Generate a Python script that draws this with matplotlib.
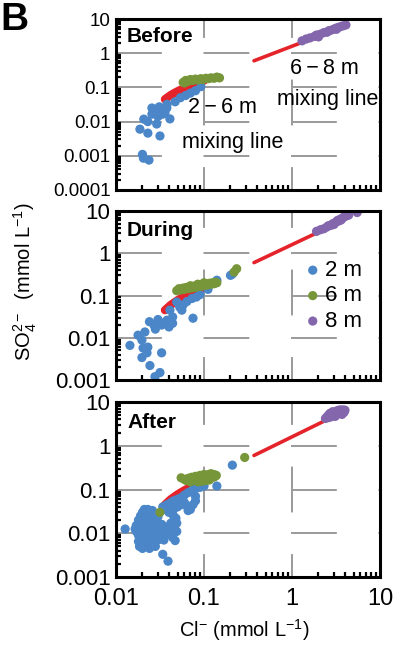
import numpy as np
import matplotlib
matplotlib.use("Agg")
import matplotlib.pyplot as plt
from matplotlib.ticker import FixedLocator, FixedFormatter, LogLocator, NullFormatter

plt.rcParams['font.family'] = ['Liberation Sans', 'DejaVu Sans']
plt.rcParams['mathtext.fontset'] = 'custom'
plt.rcParams['mathtext.rm'] = 'Liberation Sans'
plt.rcParams['mathtext.it'] = 'Liberation Sans:italic'
plt.rcParams['mathtext.bf'] = 'Liberation Sans:bold'
plt.rcParams['lines.scale_dashes'] = False

# ---- data (Cl-, SO4 2-), mmol/L ----
before_2m = [(0.0187, 0.006), (0.0207, 0.0118), (0.023, 0.0046), (0.020, 0.0011),
             (0.0205, 0.00085), (0.0237, 0.00075), (0.0256, 0.025), (0.0256, 0.0165),
             (0.023, 0.010), (0.0285, 0.02), (0.030, 0.014), (0.029, 0.0085),
             (0.0316, 0.0038), (0.034, 0.0165), (0.0378, 0.025), (0.041, 0.012),
             (0.038, 0.032), (0.033, 0.022), (0.036, 0.018), (0.031, 0.027),
             (0.047, 0.038), (0.054, 0.05), (0.062, 0.058), (0.07, 0.068),
             (0.08, 0.08), (0.092, 0.105)]
before_6m = [(0.058, 0.14), (0.062, 0.16), (0.066, 0.15), (0.07, 0.17), (0.075, 0.16),
             (0.08, 0.175), (0.086, 0.165), (0.092, 0.18), (0.098, 0.17), (0.105, 0.185),
             (0.112, 0.18), (0.12, 0.19), (0.13, 0.185), (0.14, 0.2), (0.15, 0.19),
             (0.06, 0.135)]
before_8m = [(1.3, 2.3), (1.45, 2.6), (1.6, 2.8), (1.8, 3.1), (1.9, 3.4), (2.1, 3.6),
             (2.3, 4.0), (2.5, 4.1), (2.7, 4.6), (2.9, 4.9), (3.1, 5.3), (3.3, 5.6),
             (3.5, 5.9), (3.8, 6.3), (4.1, 6.7), (2.0, 3.0), (2.6, 4.5), (3.2, 5.0)]

during_2m = [(0.0144, 0.0066), (0.0178, 0.0115), (0.0197, 0.0088), (0.0213, 0.0137),
             (0.0203, 0.0057), (0.0225, 0.0044), (0.0197, 0.0034), (0.0243, 0.0022),
             (0.0277, 0.0012), (0.0316, 0.0015), (0.033, 0.0044), (0.023, 0.006),
             (0.024, 0.024), (0.027, 0.02), (0.03, 0.027), (0.033, 0.02), (0.036, 0.023),
             (0.04, 0.018), (0.044, 0.022), (0.028, 0.016), (0.038, 0.026), (0.044, 0.031),
             (0.041, 0.045), (0.049, 0.07), (0.053, 0.053), (0.056, 0.045), (0.064, 0.072),
             (0.073, 0.085), (0.075, 0.029), (0.09, 0.105), (0.111, 0.14), (0.14, 0.23),
             (0.2, 0.3), (0.21, 0.32), (0.058, 0.06), (0.082, 0.092)]
during_6m = [(0.049, 0.13), (0.052, 0.145), (0.055, 0.135), (0.058, 0.15), (0.06, 0.14),
             (0.063, 0.155), (0.066, 0.145), (0.069, 0.16), (0.072, 0.15), (0.075, 0.165),
             (0.078, 0.155), (0.081, 0.17), (0.084, 0.16), (0.087, 0.175), (0.09, 0.165),
             (0.093, 0.18), (0.096, 0.17), (0.1, 0.185), (0.104, 0.175), (0.108, 0.19),
             (0.112, 0.18), (0.116, 0.195), (0.12, 0.185), (0.125, 0.2), (0.13, 0.19),
             (0.135, 0.205), (0.14, 0.2), (0.1, 0.2), (0.085, 0.185), (0.07, 0.17),
             (0.22, 0.36), (0.235, 0.43)]
during_8m = [(1.9, 3.3), (2.1, 3.6), (2.3, 3.8), (2.5, 4.2), (2.6, 4.5), (2.8, 4.6),
             (2.9, 5.0), (3.1, 5.3), (3.2, 5.6), (3.4, 5.8), (3.5, 6.3), (3.7, 6.6),
             (3.8, 7.0), (4.0, 7.4), (4.2, 7.8), (4.4, 8.0), (3.0, 4.8), (3.3, 6.0),
             (3.6, 6.1), (5.5, 9.2)]

after_2m = [(0.0127, 0.0125), (0.0165, 0.0125), (0.017, 0.011), (0.018, 0.009), (0.018, 0.0065),
            (0.019, 0.006), (0.0185, 0.005), (0.02, 0.0045), (0.019, 0.0075), (0.02, 0.008),
            (0.02, 0.01), (0.02, 0.013), (0.02, 0.018), (0.019, 0.025), (0.02, 0.03),
            (0.021, 0.02), (0.021, 0.015), (0.021, 0.011), (0.021, 0.007), (0.022, 0.005),
            (0.022, 0.0085), (0.022, 0.012), (0.022, 0.016), (0.022, 0.022), (0.022, 0.028),
            (0.023, 0.035), (0.023, 0.025), (0.023, 0.018), (0.023, 0.013), (0.023, 0.009),
            (0.023, 0.006), (0.024, 0.0045), (0.024, 0.007), (0.024, 0.01), (0.024, 0.014),
            (0.024, 0.02), (0.025, 0.03), (0.025, 0.024), (0.025, 0.016), (0.025, 0.011),
            (0.025, 0.008), (0.026, 0.006), (0.026, 0.009), (0.026, 0.013), (0.026, 0.019),
            (0.027, 0.027), (0.027, 0.015), (0.027, 0.01), (0.027, 0.007), (0.028, 0.005),
            (0.028, 0.012), (0.028, 0.02), (0.029, 0.009), (0.029, 0.015), (0.03, 0.007),
            (0.03, 0.011), (0.03, 0.024), (0.031, 0.013), (0.032, 0.009), (0.033, 0.016),
            (0.034, 0.0033), (0.034, 0.011), (0.035, 0.007), (0.036, 0.014), (0.038, 0.0095),
            (0.039, 0.0023), (0.04, 0.012), (0.042, 0.017), (0.044, 0.008), (0.046, 0.013),
            (0.047, 0.0068), (0.049, 0.011), (0.049, 0.017), (0.048, 0.022), (0.045, 0.025),
            (0.04, 0.03), (0.036, 0.035), (0.034, 0.04), (0.038, 0.045), (0.042, 0.05),
            (0.045, 0.055), (0.05, 0.06), (0.055, 0.065), (0.06, 0.075), (0.066, 0.085),
            (0.073, 0.095), (0.08, 0.105), (0.09, 0.112), (0.1, 0.12), (0.14, 0.12),
            (0.21, 0.36), (0.06, 0.05), (0.065, 0.04), (0.07, 0.035), (0.075, 0.045),
            (0.08, 0.07), (0.08, 0.055), (0.066, 0.033), (0.055, 0.045), (0.05, 0.04),
            (0.045, 0.035), (0.021, 0.035), (0.026, 0.033), (0.018, 0.02), (0.017, 0.015)]
after_6m = [(0.055, 0.185), (0.06, 0.17), (0.063, 0.16), (0.066, 0.18), (0.07, 0.17),
            (0.072, 0.19), (0.075, 0.16), (0.078, 0.18), (0.08, 0.2), (0.083, 0.17),
            (0.085, 0.19), (0.088, 0.16), (0.09, 0.21), (0.092, 0.18), (0.095, 0.2),
            (0.098, 0.17), (0.1, 0.22), (0.103, 0.19), (0.106, 0.21), (0.11, 0.18),
            (0.113, 0.22), (0.117, 0.2), (0.12, 0.23), (0.124, 0.21), (0.128, 0.19),
            (0.13, 0.22), (0.134, 0.2), (0.138, 0.21), (0.086, 0.15), (0.095, 0.155),
            (0.105, 0.16), (0.115, 0.165), (0.07, 0.15), (0.0316, 0.03), (0.29, 0.54)]
after_8m = [(2.4, 4.2), (2.5, 4.6), (2.6, 4.4), (2.6, 5.0), (2.7, 4.8), (2.8, 5.2), (2.8, 4.6),
            (2.9, 5.5), (3.0, 5.0), (3.0, 5.8), (3.1, 5.4), (3.2, 6.0), (3.2, 5.2), (3.3, 5.7),
            (3.4, 6.2), (3.4, 5.5), (3.5, 6.0), (3.6, 6.4), (3.6, 5.6), (3.7, 6.1), (3.8, 6.6),
            (3.9, 6.2), (4.0, 6.5), (3.5, 6.6), (3.3, 6.4), (2.9, 6.0), (2.7, 5.5), (3.9, 5.8),
            (3.1, 4.7), (3.7, 5.2)]

# mixing lines
mix_26_cl = [0.036, 0.042, 0.05, 0.06, 0.072, 0.085, 0.1]
mix_26_so4 = [0.045, 0.06, 0.077, 0.096, 0.116, 0.136, 0.158]
mix_68_cl = [0.37, 2.6]
mix_68_so4 = [0.6, 4.1]

panels = ['Before', 'During', 'After']
panel_data = [(before_2m, before_6m, before_8m),
              (during_2m, during_6m, during_8m),
              (after_2m, after_6m, after_8m)]
depths = ['2 m', '6 m', '8 m']
colors = ['#4A86C8', '#77963A', '#8466AC']
red = '#E5232A'

x_ticks = [0.01, 0.1, 1, 10]
x_ticklabels = ['0.01', '0.1', '1', '10']
y_ticks_top = [0.0001, 0.001, 0.01, 0.1, 1, 10]
y_ticklabels_top = ['0.0001', '0.001', '0.01', '0.1', '1', '10']
y_ticks = [0.001, 0.01, 0.1, 1, 10]
y_ticklabels = ['0.001', '0.01', '0.1', '1', '10']

W, H = 399, 645
fig = plt.figure(figsize=(W / 100, H / 100), dpi=100)

# axes boxes in pixels: left, top, right, bottom
boxes = [(116, 19, 380, 190), (116, 211, 380, 380), (116, 402, 380, 577)]

grid_kw = dict(color='#9a9a9a', linewidth=1.4)
axes = []
for i, (l, t, r, b) in enumerate(boxes):
    ax = fig.add_axes([l / W, 1 - b / H, (r - l) / W, (b - t) / H])
    ax.set_xscale('log')
    ax.set_yscale('log')
    ax.set_xlim(0.01, 10)
    if i == 0:
        ax.set_ylim(1e-4, 10)
        yt, ytl, yfs = y_ticks_top, y_ticklabels_top, 13.5
    else:
        ax.set_ylim(1e-3, 10)
        yt, ytl, yfs = y_ticks, y_ticklabels, 16

    two, six, eight = panel_data[i]
    ax.plot(mix_26_cl, mix_26_so4, color=red, lw=6, solid_capstyle='round', zorder=2)
    ax.plot(mix_68_cl, mix_68_so4, color=red, lw=2.6, solid_capstyle='round', zorder=2)
    for pts, c, lab in zip((two, six, eight), colors, depths):
        arr = np.array(pts)
        ax.scatter(arr[:, 0], arr[:, 1], s=44, color=c, edgecolors='none',
                   zorder=3, label=lab)

    # dashed grid
    ax.xaxis.set_major_locator(FixedLocator(x_ticks))
    ax.yaxis.set_major_locator(FixedLocator(yt))
    ax.yaxis.set_major_formatter(FixedFormatter(ytl))
    ax.xaxis.set_minor_locator(LogLocator(base=10, subs=np.arange(2, 10), numticks=20))
    ax.yaxis.set_minor_locator(LogLocator(base=10, subs=np.arange(2, 10), numticks=20))
    ax.xaxis.set_minor_formatter(NullFormatter())
    ax.yaxis.set_minor_formatter(NullFormatter())
    ax.grid(True, which='major', axis='y', linestyle=(0, (33, 30)), **grid_kw)
    ax.grid(True, which='major', axis='x', linestyle=(16.5, (33, 30)), **grid_kw)
    ax.set_axisbelow(True)

    if i == 2:
        ax.xaxis.set_major_formatter(FixedFormatter(x_ticklabels))
    else:
        ax.xaxis.set_major_formatter(NullFormatter())

    ax.tick_params(which='major', length=0, pad=4, labelsize=yfs, axis='y')
    ax.tick_params(which='major', length=0, pad=8, labelsize=17, axis='x')
    ax.tick_params(which='minor', direction='in', length=3.5, width=1.6, color='black')
    for sp in ax.spines.values():
        sp.set_linewidth(2.2)
        sp.set_zorder(5)

    ax.text(0.042, 0.9 if i == 0 else 0.885, panels[i], transform=ax.transAxes,
            ha='left', va='center', fontsize=15, fontweight='bold', zorder=6)
    axes.append(ax)

ax1, ax2, ax3 = axes

# mixing line labels
ax1.text(0.405, 0.485, '2\u2009\u2212\u20096 m', transform=ax1.transAxes,
         ha='center', va='center', fontsize=15.5)
ax1.text(0.443, 0.275, 'mixing line', transform=ax1.transAxes,
         ha='center', va='center', fontsize=15.5)
ax1.text(0.788, 0.713, '6\u2009\u2212\u20098 m', transform=ax1.transAxes,
         ha='center', va='center', fontsize=15.5)
ax1.text(0.803, 0.532, 'mixing line', transform=ax1.transAxes,
         ha='center', va='center', fontsize=15.5)

ax2.legend(loc='upper left', bbox_to_anchor=(0.72, 0.71), frameon=False,
           fontsize=16, handlelength=0.6, handletextpad=0.25, labelspacing=0.2,
           borderpad=0, borderaxespad=0, scatterpoints=1)

fig.text(0.0, 1 - 30 / H, 'B', fontsize=28, fontweight='bold', ha='left', va='baseline')
fig.text(25 / W, 1 - 282 / H, 'SO$_4^{2-}$  (mmol L$^{-1}$)', rotation=90,
         ha='center', va='center', fontsize=14.5)
fig.text(244 / W, 1 - 630 / H, 'Cl$^{-}$ (mmol L$^{-1}$)',
         ha='center', va='center', fontsize=14.5)

fig.savefig('out.png', dpi=100)
